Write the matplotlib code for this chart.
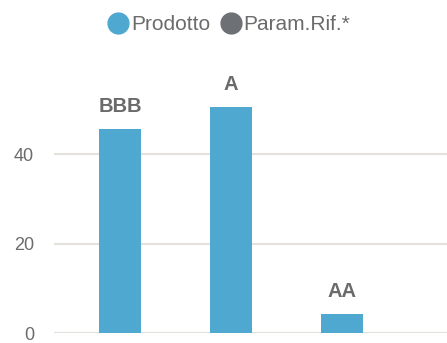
import matplotlib
matplotlib.use('Agg')
import matplotlib.pyplot as plt
from matplotlib.lines import Line2D

plt.rcParams['font.family'] = ['Liberation Sans', 'DejaVu Sans']

# dati
categorie = ['BBB', 'A', 'AA']
prodotto = [45.6, 50.7, 4.3]
serie = ['Prodotto', 'Param.Rif.*']
y_ticks = [0, 20, 40]

col_blu = '#4ea8cf'
col_grigio = '#6d7175'
col_testo = '#6b6b6b'
col_griglia = '#e4e0dc'

fig = plt.figure(figsize=(4.47, 3.43), dpi=100)
ax = fig.add_axes([54 / 447, 10 / 343, 1 - 54 / 447, 268 / 343])

x = list(range(len(categorie)))
bars = ax.bar(x, prodotto, width=42 / 111, color=col_blu, zorder=3)

# etichette sopra le barre
for b, lab in zip(bars, categorie):
    ax.annotate(lab, (b.get_x() + b.get_width() / 2, b.get_height()),
                xytext=(0, 12.2), textcoords='offset points', ha='center', va='baseline',
                fontsize=14.5, fontweight='bold', color=col_testo)

ax.set_xlim(-0.595, 2.946)
ax.set_ylim(0, 60)
ax.set_yticks(y_ticks)
ax.set_xticks([])
ax.tick_params(axis='y', length=0, labelsize=13, labelcolor=col_testo, pad=14.4)
ax.yaxis.grid(True, color=col_griglia, linewidth=1.5, zorder=0)
for s in ax.spines.values():
    s.set_visible(False)

handles = [Line2D([], [], marker='o', linestyle='', markersize=15, color=c)
           for c in (col_blu, col_grigio)]
fig.legend(handles, serie, loc='center', bbox_to_anchor=(229 / 447, 1 - 24.7 / 343), ncol=2,
           frameon=False, fontsize=15, handletextpad=0.115, columnspacing=0.5,
           labelcolor=col_testo, handlelength=1.0, borderpad=0, borderaxespad=0)

fig.savefig('out.png', dpi=100)
